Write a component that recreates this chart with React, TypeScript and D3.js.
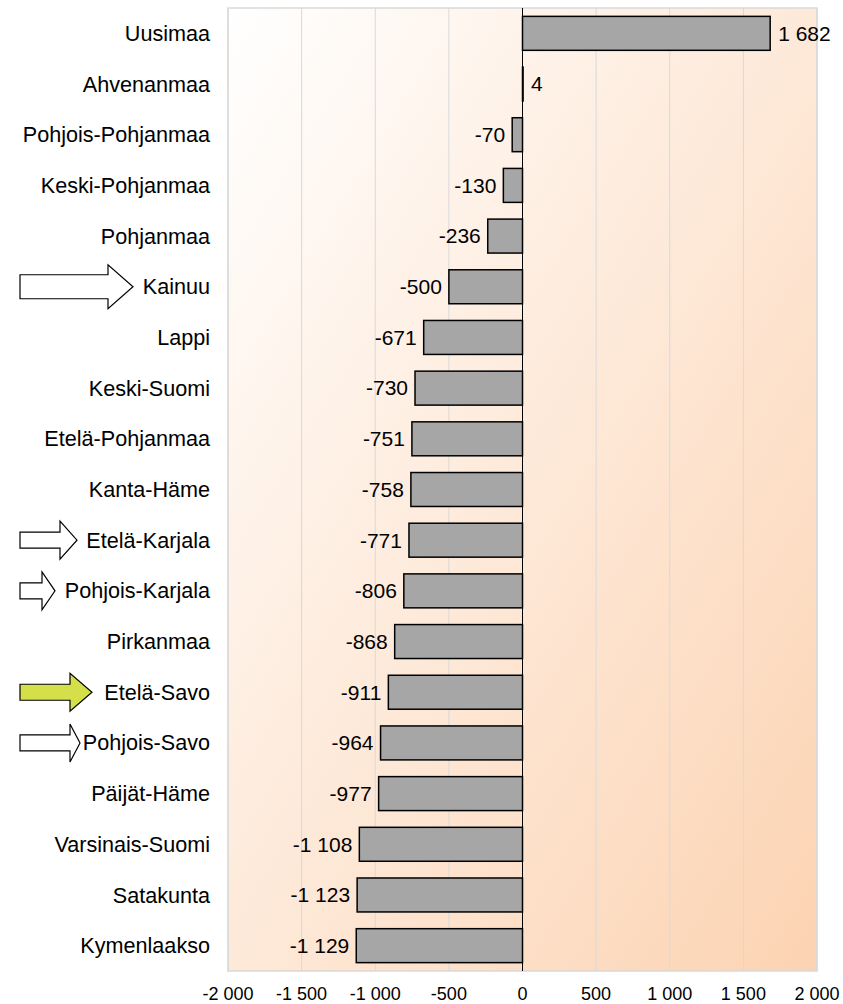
import React from 'react';
import * as d3 from 'd3';

const regions = [
  'Uusimaa', 'Ahvenanmaa', 'Pohjois-Pohjanmaa', 'Keski-Pohjanmaa', 'Pohjanmaa', 'Kainuu', 'Lappi',
  'Keski-Suomi', 'Etelä-Pohjanmaa', 'Kanta-Häme', 'Etelä-Karjala', 'Pohjois-Karjala', 'Pirkanmaa',
  'Etelä-Savo', 'Pohjois-Savo', 'Päijät-Häme', 'Varsinais-Suomi', 'Satakunta', 'Kymenlaakso',
];
const values = [1682, 4, -70, -130, -236, -500, -671, -730, -751, -758, -771, -806, -868, -911, -964, -977, -1108, -1123, -1129];
const ticks = [-2000, -1500, -1000, -500, 0, 500, 1000, 1500, 2000];

// highlighted regions (arrow markers on the left)
const arrowRegions = ['Kainuu', 'Etelä-Karjala', 'Pohjois-Karjala', 'Etelä-Savo', 'Pohjois-Savo'];
const arrowLengths = [113, 57, 35, 72, 60];
const arrowHeads = [25, 17, 13, 22, 10];
const arrowFills = ['#ffffff', '#ffffff', '#ffffff', '#d4df4a', '#ffffff'];

const W = 843;
const H = 1004;
const plot = { left: 228, right: 817, top: 8, bottom: 971 };
const font = '"Liberation Sans", Arial, sans-serif';

const fmt = (v: number) => d3.format(',')(v).replace(/,/g, ' ').replace('\u2212', '-');

const App: React.FC = () => {
  const x = d3.scaleLinear().domain([-2000, 2000]).range([plot.left, plot.right]);
  const y = d3.scaleBand<string>().domain(regions).range([plot.top, plot.bottom]).paddingInner(0.33).paddingOuter(0.165);
  const step = y.step();

  return (
    <svg width={W} height={H} style={{ position: 'absolute', left: 0, top: 0 }} fontFamily={font}>
      <defs>
        <linearGradient id="bg" x1="0" y1="0" x2="1" y2="1">
          <stop offset="0" stopColor="#ffffff" />
          <stop offset="1" stopColor="#fcd3b2" />
        </linearGradient>
      </defs>
      <rect x={0} y={0} width={W} height={H} fill="#fff" />
      <rect x={plot.left} y={plot.top} width={plot.right - plot.left} height={plot.bottom - plot.top} fill="url(#bg)" />
      {ticks.map((t) => (
        <line key={t} x1={x(t)} x2={x(t)} y1={plot.top} y2={plot.bottom} stroke="#d9d9d9" strokeWidth={1} />
      ))}
      <rect x={plot.left} y={plot.top} width={plot.right - plot.left} height={plot.bottom - plot.top} fill="none" stroke="#d9d9d9" strokeWidth={1.5} />

      {regions.map((r, i) => {
        const v = values[i];
        const x0 = x(Math.min(0, v));
        const x1 = x(Math.max(0, v));
        const yy = y(r)!;
        const cy = yy + y.bandwidth() / 2;
        return (
          <g key={r}>
            <rect x={x0} y={yy} width={Math.max(x1 - x0, 0.5)} height={y.bandwidth()} fill="#a6a6a6" stroke="#000" strokeWidth={1.5} />
            <text
              x={v >= 0 ? x1 + 8 : x0 - 7}
              y={cy}
              dy="0.35em"
              textAnchor={v >= 0 ? 'start' : 'end'}
              fontSize={21}
              fill="#000"
            >
              {fmt(v)}
            </text>
            <text x={210} y={plot.top + step * (i + 0.5)} dy="0.35em" textAnchor="end" fontSize={21.6} fill="#000">
              {r}
            </text>
          </g>
        );
      })}

      <line x1={x(0)} x2={x(0)} y1={plot.top} y2={plot.bottom} stroke="#000" strokeWidth={1} />

      {ticks.map((t) => (
        <text key={t} x={x(t)} y={994} dy="0.35em" textAnchor="middle" fontSize={18} fill="#000">
          {fmt(t)}
        </text>
      ))}

      {arrowRegions.map((r, i) => {
        const cy = plot.top + step * (regions.indexOf(r) + 0.5);
        const x0 = 20;
        const tip = x0 + arrowLengths[i];
        const hx = tip - arrowHeads[i];
        const big = r === 'Kainuu';
        const bh = big ? 12 : 8;
        const hh = big ? 22 : 19;
        const pts: [number, number][] = [
          [x0, cy - bh], [hx, cy - bh], [hx, cy - hh], [tip, cy], [hx, cy + hh], [hx, cy + bh], [x0, cy + bh],
        ];
        return (
          <path key={r} d={d3.line()(pts)! + 'Z'} fill={arrowFills[i]} stroke="#000" strokeWidth={1.2} strokeLinejoin="miter" />
        );
      })}
    </svg>
  );
};

export default App;
